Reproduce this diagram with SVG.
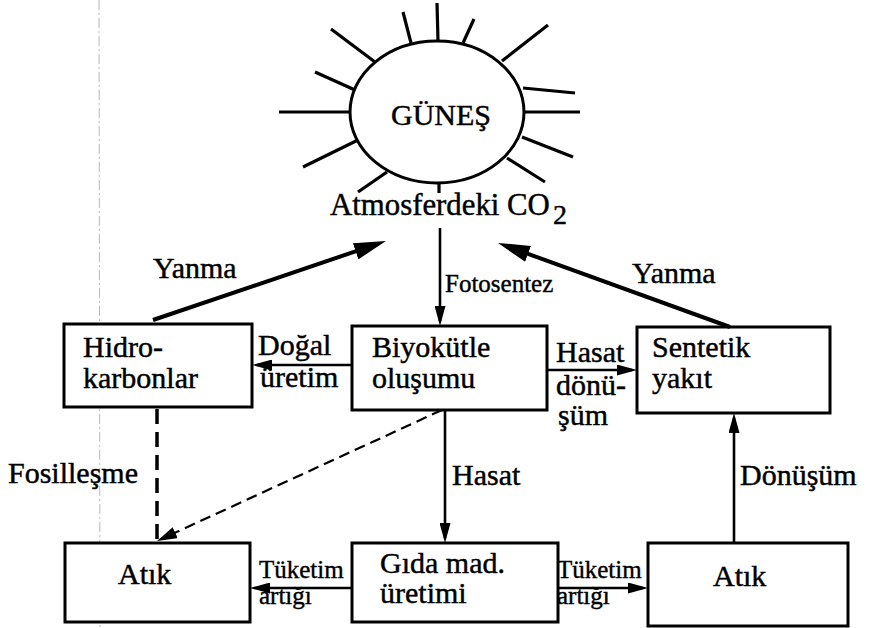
<svg xmlns="http://www.w3.org/2000/svg" width="869" height="628" viewBox="0 0 869 628">
  <style>
    .box { fill: #fff; stroke: #000; stroke-width: 3; }
    .t { font-family: "Liberation Serif", "DejaVu Serif", "Noto Serif", Times, serif; font-size: 30px; fill: #000; stroke: #000; stroke-width: 0.45; }
    .s { font-family: "Liberation Serif", "DejaVu Serif", "Noto Serif", Times, serif; font-size: 25px; fill: #000; stroke: #000; stroke-width: 0.4; }
    .ray { stroke: #000; stroke-width: 3.2; stroke-linecap: butt; fill: none; }
    .arr { stroke: #000; stroke-width: 2.6; fill: none; }
    .thick { stroke: #000; stroke-width: 4; fill: none; }
    .dash1 { stroke: #000; stroke-width: 3.5; fill: none; stroke-dasharray: 15 8; }
    .dash2 { stroke: #000; stroke-width: 2.2; fill: none; stroke-dasharray: 11 6; }
    .guide { stroke: #b8b8b8; stroke-width: 1; fill: none; stroke-dasharray: 10 3 2 3; }
  </style>
  <defs>
    <marker id="big" markerUnits="userSpaceOnUse" markerWidth="32" markerHeight="17" refX="24" refY="8.5" orient="auto">
      <path d="M0,0 L32,8.5 L0,17 Z" fill="#000"/>
    </marker>
    <marker id="mid" markerUnits="userSpaceOnUse" markerWidth="20" markerHeight="11" refX="15" refY="5.5" orient="auto">
      <path d="M0,0 L20,5.5 L0,11 Z" fill="#000"/>
    </marker>
    <marker id="dsh" markerUnits="userSpaceOnUse" markerWidth="20" markerHeight="12" refX="14" refY="6" orient="auto">
      <path d="M0,0 L20,6 L0,12 Z" fill="#000"/>
    </marker>
  </defs>

  <rect width="869" height="628" fill="#fff"/>

  <!-- faint ruling line running down the page -->
  <line class="guide" x1="99" y1="0" x2="100" y2="628"/>

  <!-- sun -->
  <g id="sun">
    <ellipse cx="437" cy="112" rx="87" ry="71" fill="#fff" stroke="#000" stroke-width="3"/>
    <line class="ray" x1="437" y1="3" x2="438" y2="41"/>
    <line class="ray" x1="403" y1="12" x2="411" y2="43"/>
    <line class="ray" x1="474" y1="19" x2="463" y2="43"/>
    <line class="ray" x1="331" y1="29" x2="375" y2="62"/>
    <line class="ray" x1="548" y1="25" x2="502" y2="61"/>
    <line class="ray" x1="315" y1="72" x2="355" y2="90"/>
    <line class="ray" x1="523" y1="88" x2="575" y2="93"/>
    <line class="ray" x1="279" y1="112" x2="350" y2="112"/>
    <line class="ray" x1="524" y1="112" x2="580" y2="112"/>
    <line class="ray" x1="303" y1="167" x2="358" y2="140"/>
    <line class="ray" x1="522" y1="137" x2="573" y2="157"/>
    <line class="ray" x1="358" y1="192" x2="387" y2="172"/>
    <line class="ray" x1="507" y1="158" x2="545" y2="182"/>
    <line class="ray" x1="439" y1="183" x2="439" y2="193"/>
    <text class="t" x="441" y="125" text-anchor="middle">GÜNEŞ</text>
  </g>

  <g id="co2">
    <text class="t" x="330" y="215" style="font-size:30.8px">Atmosferdeki CO</text>
    <text class="t" x="553" y="224" style="font-size:28px">2</text>
  </g>

  <!-- nodes -->
  <g id="hidrokarbonlar">
    <rect class="box" x="64" y="324" width="188" height="83"/>
    <text class="t" x="83" y="357">Hidro-</text>
    <text class="t" x="83" y="388">karbonlar</text>
  </g>
  <g id="biyokutle">
    <rect class="box" x="352" y="326" width="195" height="84"/>
    <text class="t" x="372" y="357">Biyokütle</text>
    <text class="t" x="372" y="388">oluşumu</text>
  </g>
  <g id="sentetik">
    <rect class="box" x="637" y="327" width="193" height="86"/>
    <text class="t" x="652" y="357">Sentetik</text>
    <text class="t" x="652" y="388">yakıt</text>
  </g>
  <g id="atik-sol">
    <rect class="box" x="65" y="543" width="185" height="79"/>
    <text class="t" x="118" y="584">Atık</text>
  </g>
  <g id="gida">
    <rect class="box" x="352" y="543" width="206" height="79"/>
    <text class="t" x="380" y="573">Gıda mad.</text>
    <text class="t" x="380" y="603">üretimi</text>
  </g>
  <g id="atik-sag">
    <rect class="box" x="648" y="543" width="200" height="83"/>
    <text class="t" x="713" y="586">Atık</text>
  </g>

  <!-- connectors -->
  <g id="connectors">
    <line class="arr" x1="440" y1="228" x2="440" y2="321" marker-end="url(#mid)"/>
    <line class="thick" x1="153" y1="320" x2="378.4" y2="243.6" marker-end="url(#big)"/>
    <line class="thick" x1="730" y1="327" x2="505.5" y2="245.7" marker-end="url(#big)"/>
    <line class="arr" x1="352" y1="365" x2="257" y2="365" marker-end="url(#mid)"/>
    <line class="arr" x1="547" y1="370" x2="632" y2="370" marker-end="url(#mid)"/>
    <line class="arr" x1="445" y1="410" x2="445" y2="538" marker-end="url(#mid)"/>
    <line class="arr" x1="734" y1="543" x2="734" y2="418" marker-end="url(#mid)"/>
    <line class="arr" x1="352" y1="588" x2="255" y2="588" marker-end="url(#mid)"/>
    <line class="arr" x1="558" y1="588" x2="643" y2="588" marker-end="url(#mid)"/>
    <line class="dash1" x1="157" y1="409" x2="157" y2="543"/>
    <line class="dash2" x1="442" y1="410" x2="162.5" y2="538.5" marker-end="url(#dsh)"/>
  </g>

  <!-- connector labels -->
  <g id="labels">
    <text class="t" x="153" y="278">Yanma</text>
    <text class="t" x="632" y="283">Yanma</text>
    <text class="s" x="445" y="292">Fotosentez</text>
    <text class="t" x="258" y="355">Doğal</text>
    <text class="t" x="260" y="387">üretim</text>
    <text class="t" x="556" y="362">Hasat</text>
    <text class="t" x="556" y="395">dönü-</text>
    <text class="t" x="558" y="425">şüm</text>
    <text class="t" x="452" y="485">Hasat</text>
    <text class="t" x="740" y="485">Dönüşüm</text>
    <text class="t" x="8" y="483">Fosilleşme</text>
    <text class="s" x="259" y="578">Tüketim</text>
    <text class="s" x="259" y="604">artığı</text>
    <text class="s" x="557" y="578">Tüketim</text>
    <text class="s" x="557" y="604">artığı</text>
  </g>
</svg>
